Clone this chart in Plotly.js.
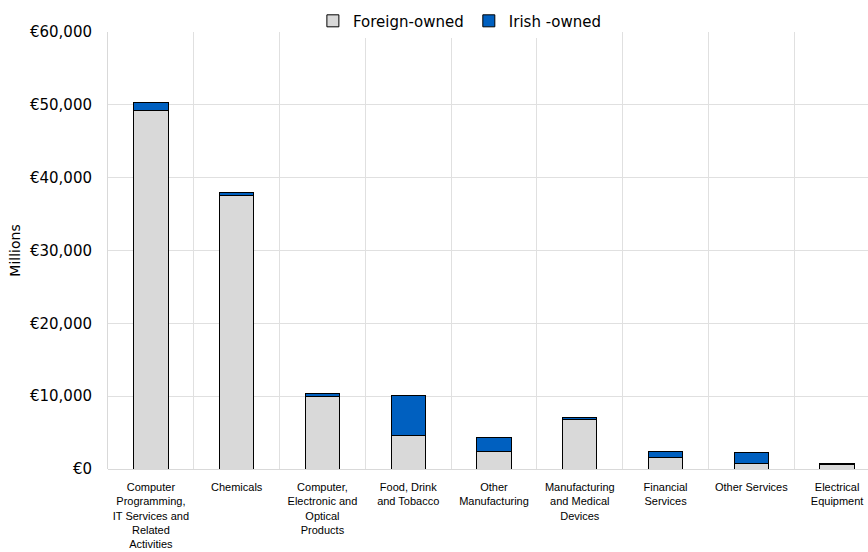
<!DOCTYPE html>
<html>
<head>
<meta charset="utf-8">
<script src="https://cdn.plot.ly/plotly-3.0.1.min.js"></script>
<style>html,body{margin:0;padding:0;background:#fff;}#chart{width:868px;height:552px;}</style>
</head>
<body>
<div id="chart"></div>
<script>
const categories = [
  "Computer<br>Programming,<br>IT Services and<br>Related<br>Activities",
  "Chemicals",
  "Computer,<br>Electronic and<br>Optical<br>Products",
  "Food, Drink<br>and Tobacco",
  "Other<br>Manufacturing",
  "Manufacturing<br>and Medical<br>Devices",
  "Financial<br>Services",
  "Other Services",
  "Electrical<br>Equipment"
];
const foreignOwned = [49200, 37600, 9900, 4600, 2470, 6820, 1600, 780, 550];
const irishOwned   = [1100, 300, 400, 5500, 1900, 300, 780, 1500, 180];
const yTickVals = [0, 10000, 20000, 30000, 40000, 50000, 60000];
const yTickText = ["€0", "€10,000", "€20,000", "€30,000", "€40,000", "€50,000", "€60,000"];

const yfont = "'DejaVu Sans', sans-serif";
const xfont = "'Liberation Sans', Arial, sans-serif";
const traces = [
  {type: "bar", name: "Foreign-owned", x: categories, y: foreignOwned,
   marker: {color: "#d9d9d9", line: {color: "#000000", width: 1}}},
  {type: "bar", name: "Irish -owned", x: categories, y: irishOwned,
   marker: {color: "#0060c0", line: {color: "#000000", width: 1}}}
];
const layout = {
  width: 868, height: 552,
  margin: {l: 108, r: 0, t: 32, b: 83},
  barmode: "stack",
  bargap: 0.6,
  paper_bgcolor: "#ffffff", plot_bgcolor: "#ffffff",
  font: {family: yfont, color: "#000000"},
  showlegend: true,
  legend: {orientation: "h", x: 0.463, xanchor: "center", y: 1.025, yanchor: "middle",
           traceorder: "normal", font: {size: 15, family: yfont}, itemwidth: 30},
  xaxis: {type: "category", range: [-0.5, 8.36], tickson: "boundaries",
          showgrid: true, gridcolor: "#e0e0e0", gridwidth: 1,
          showline: false, ticks: "", tickangle: 0, ticklabelstandoff: 10,
          tickfont: {size: 11, family: xfont}, zeroline: false},
  yaxis: {range: [0, 60000], tickvals: yTickVals, ticktext: yTickText,
          showgrid: true, gridcolor: "#e0e0e0", gridwidth: 1,
          showline: true, linecolor: "#d9d9d9", linewidth: 1,
          zeroline: true, zerolinecolor: "#d9d9d9", zerolinewidth: 1,
          tickfont: {size: 15, family: yfont}, ticks: "", ticklen: 0,
          ticklabelstandoff: 12,
          title: {text: "Millions", font: {size: 14, family: yfont}, standoff: 6}}
};
Plotly.newPlot("chart", traces, layout, {displayModeBar: false, staticPlot: true});
</script>
</body>
</html>
